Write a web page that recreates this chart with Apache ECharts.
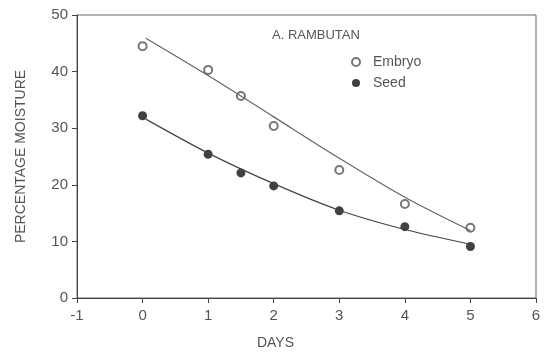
<!DOCTYPE html>
<html lang="en">
<head>
    <meta charset="UTF-8">
    <title>rambutan</title>
    <script src="https://cdn.jsdelivr.net/npm/echarts@6/dist/echarts.min.js"></script>
    <style>
        body{ margin:0; background:#fff; }
        #main{ width:545px; height:360px; }
    </style>
</head>
<body>
<div id="main"></div>
<script>
    // measured points
    var days = [0, 1, 1.5, 2, 3, 4, 5];
    var embryo = [44.5, 40.3, 35.7, 30.4, 22.6, 16.6, 12.4];
    var seed = [32.2, 25.4, 22.1, 19.8, 15.4, 12.6, 9.1];
    // fitted curves drawn through the points
    var fitDays = [0.05, 1, 2, 3, 4, 5];
    var embryoFit = [45.9, 39.3, 32.0, 24.7, 17.8, 11.9];
    var seedFit = [31.6, 25.6, 20.2, 15.5, 12.1, 9.5];
    var xTicks = [-1, 0, 1, 2, 3, 4, 5, 6];
    var yTicks = [0, 10, 20, 30, 40, 50];

    function pairs(xs, ys){
        var out = [];
        for (var i = 0; i < xs.length; i++) out.push([xs[i], ys[i]]);
        return out;
    }

    var ink = '#555';
    var font = 'Liberation Sans';
    var myChart = echarts.init(document.getElementById('main'));
    var option = {
        animation: false,
        textStyle: { fontFamily: font },
        title: {
            text: 'A. RAMBUTAN',
            left: 267, top: 24,
            textStyle: { fontSize: 13, fontWeight: 'normal', color: ink, fontFamily: font }
        },
        legend: {
            data: ['Embryo', 'Seed'],
            orient: 'vertical',
            left: 346, top: 50,
            itemWidth: 8, itemHeight: 8, itemGap: 7,
            textStyle: { fontSize: 14, color: ink, fontFamily: font, padding: [0, 0, 0, 8] }
        },
        grid: { left: 77, right: 9, top: 15, bottom: 62, show: true, borderColor: '#666', borderWidth: 1 },
        xAxis: {
            type: 'value', min: xTicks[0], max: xTicks[xTicks.length - 1], interval: 1,
            name: 'DAYS', nameLocation: 'middle', nameGap: 38,
            nameTextStyle: { fontSize: 14, color: ink, padding: [0, 62, 0, 0] },
            axisLine: { onZero: false, lineStyle: { color: '#444' } },
            axisTick: { inside: false, length: 5, lineStyle: { color: '#444' } },
            axisLabel: { fontSize: 15, color: ink, margin: 10 },
            splitLine: { show: false }
        },
        yAxis: {
            type: 'value', min: yTicks[0], max: yTicks[yTicks.length - 1], interval: 10,
            name: 'PERCENTAGE MOISTURE', nameLocation: 'middle', nameGap: 49,
            nameTextStyle: { fontSize: 14, color: ink },
            axisLine: { show: true, onZero: false, lineStyle: { color: '#444' } },
            axisTick: { show: true, length: 5, lineStyle: { color: '#444' } },
            axisLabel: { fontSize: 15, color: ink, margin: 9 },
            splitLine: { show: false }
        },
        series: [
            {
                type: 'line', data: pairs(fitDays, embryoFit), smooth: 0.3,
                symbol: 'none', silent: true,
                lineStyle: { color: '#666', width: 1.2 }
            },
            {
                type: 'line', data: pairs(fitDays, seedFit), smooth: 0.3,
                symbol: 'none', silent: true,
                lineStyle: { color: '#444', width: 1.2 }
            },
            {
                name: 'Embryo', type: 'scatter', data: pairs(days, embryo),
                symbol: 'emptyCircle', symbolSize: 8,
                itemStyle: { color: '#555', borderColor: '#555', borderWidth: 1.2 }
            },
            {
                name: 'Seed', type: 'scatter', data: pairs(days, seed),
                symbol: 'circle', symbolSize: 9,
                itemStyle: { color: '#111' }
            }
        ]
    };
    myChart.setOption(option, true);
</script>
</body>
</html>
